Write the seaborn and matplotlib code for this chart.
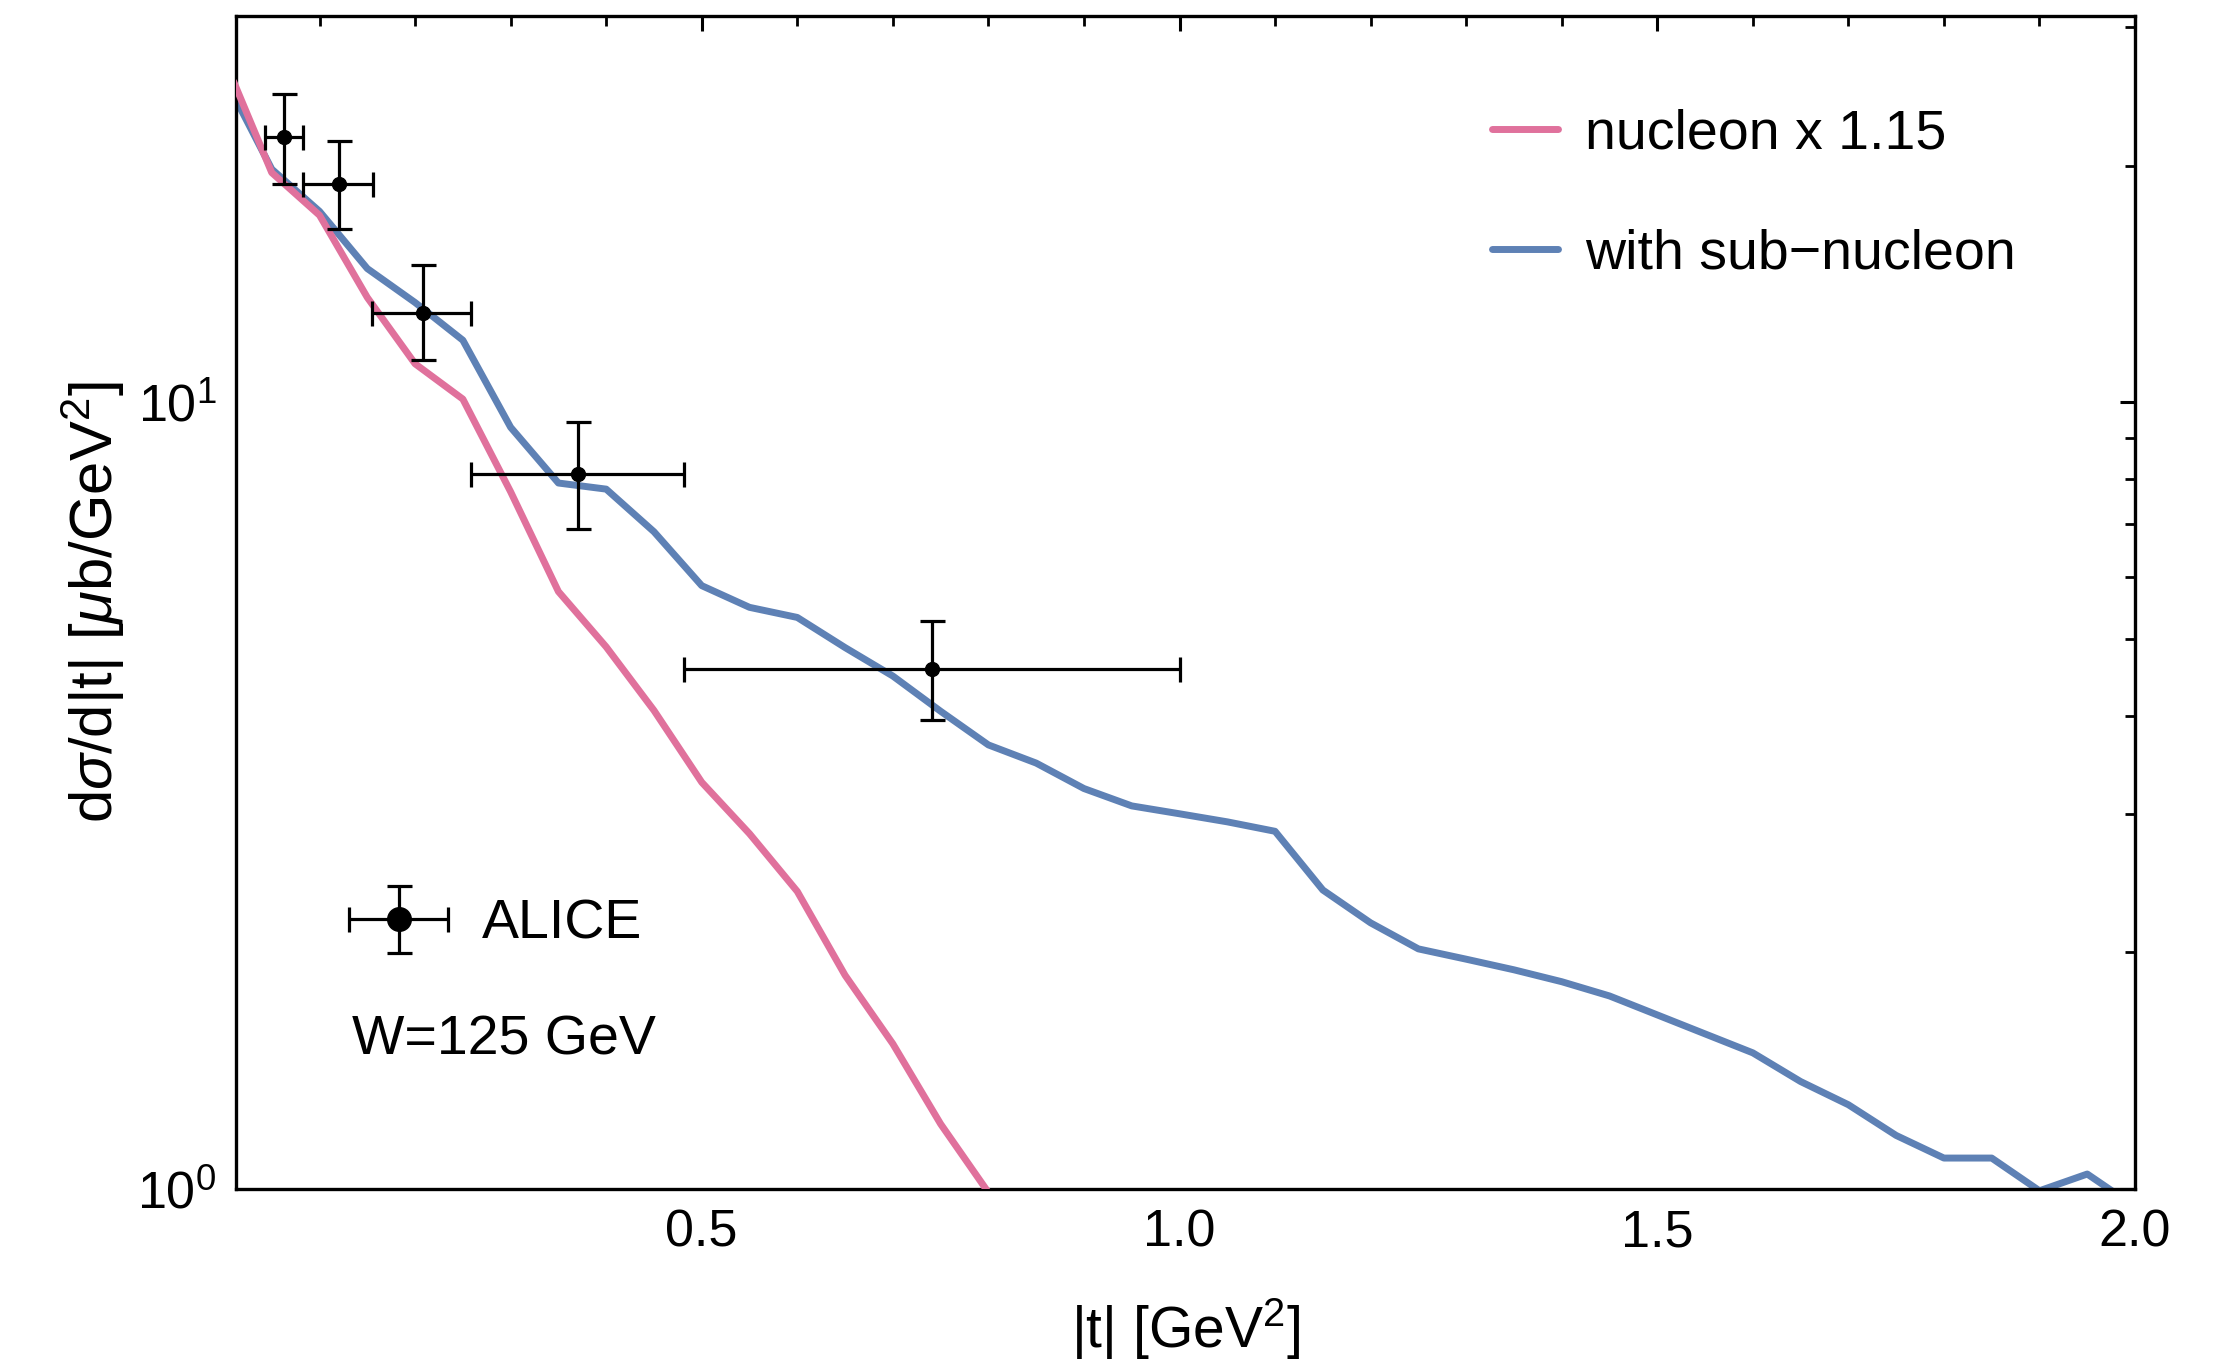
import matplotlib
matplotlib.use("Agg")
import matplotlib.pyplot as plt
import seaborn as sns
from matplotlib.lines import Line2D
from matplotlib.legend_handler import HandlerErrorbar
from matplotlib.container import ErrorbarContainer
from matplotlib.ticker import LogLocator, MultipleLocator, NullFormatter

# ---------------- data ----------------
t_grid = [0.01, 0.05, 0.10, 0.15, 0.20, 0.25, 0.30, 0.35, 0.40, 0.45,
          0.50, 0.55, 0.60, 0.65, 0.70, 0.75, 0.80, 0.85, 0.90, 0.95,
          1.00, 1.05, 1.10, 1.15, 1.20, 1.25, 1.30, 1.35, 1.40, 1.45,
          1.50, 1.55, 1.60, 1.65, 1.70, 1.75, 1.80, 1.85, 1.90, 1.95, 2.00]
sub_nucleon = [24.6, 19.8, 17.5, 14.8, 13.4, 12.0, 9.3, 7.9, 7.76, 6.85,
               5.85, 5.49, 5.33, 4.88, 4.49, 4.05, 3.67, 3.48, 3.23, 3.07,
               3.00, 2.93, 2.85, 2.40, 2.18, 2.02, 1.96, 1.90, 1.835, 1.76,
               1.665, 1.575, 1.49, 1.37, 1.28, 1.17, 1.095, 1.095, 0.995, 1.045, 0.95]

t_nucleon = [0.01, 0.05, 0.10, 0.15, 0.20, 0.25, 0.30, 0.35, 0.40, 0.45,
             0.50, 0.55, 0.60, 0.65, 0.70, 0.75, 0.80]
nucleon = [25.6, 19.6, 17.3, 13.6, 11.2, 10.1, 7.7, 5.75, 4.89, 4.06,
           3.29, 2.83, 2.39, 1.87, 1.53, 1.21, 0.99]

alice_t = [0.063, 0.1207, 0.2086, 0.3702, 0.7413]
alice_t_lo = [0.0432, 0.083, 0.1546, 0.2582, 0.4812]
alice_t_hi = [0.083, 0.1557, 0.2582, 0.4815, 1.0]
alice_y = [21.76, 18.98, 13.0, 8.11, 4.59]
alice_y_hi = [24.7, 21.5, 14.94, 9.44, 5.27]
alice_y_lo = [18.94, 16.63, 11.31, 6.90, 3.95]

label_nucleon = "nucleon x 1.15"
label_sub = "with sub\u2212nucleon"
label_alice = "ALICE"
annot = "W=125 GeV"
xlabel = r"|t| [GeV$^2$]"
ylabel = r"d$\sigma$/d|t| [$\mu$b/GeV$^2$]"

pink = "#E0719C"
blue = "#5E81B5"

# ---------------- style ----------------
sns.set_style("white")
plt.rcParams["font.family"] = ["Liberation Sans", "DejaVu Sans"]
plt.rcParams["mathtext.fontset"] = "custom"
plt.rcParams["mathtext.rm"] = "Liberation Sans"
plt.rcParams["mathtext.it"] = "Liberation Sans:italic"
plt.rcParams["mathtext.bf"] = "Liberation Sans:bold"
for k in ["text.color", "axes.labelcolor", "xtick.color", "ytick.color",
          "axes.edgecolor", "xtick.labelcolor", "ytick.labelcolor"]:
    plt.rcParams[k] = "black"

fs_tick = 37.5
fs_leg = 40
lw_curve = 5.0

fig = plt.figure(figsize=(22.34, 13.68), dpi=100)
ax = fig.add_axes([0.1056, 0.1308, 0.8501, 0.8575])

sns.lineplot(x=t_grid, y=sub_nucleon, ax=ax, color=blue, lw=lw_curve, sort=False,
             label=label_sub, legend=False, zorder=2)
sns.lineplot(x=t_nucleon, y=nucleon, ax=ax, color=pink, lw=lw_curve, sort=False,
             label=label_nucleon, legend=False, zorder=3)

xerr = [[c - lo for c, lo in zip(alice_t, alice_t_lo)],
        [hi - c for c, hi in zip(alice_t, alice_t_hi)]]
yerr = [[c - lo for c, lo in zip(alice_y, alice_y_lo)],
        [hi - c for c, hi in zip(alice_y, alice_y_hi)]]
cont = ax.errorbar(alice_t, alice_y, xerr=xerr, yerr=yerr, fmt="o", color="black",
                   ms=10, elinewidth=2.3, capsize=9, capthick=2.3, zorder=4)

ax.set_yscale("log")
ax.set_xlim(0.0125, 2.0)
ax.set_ylim(1.0, 31.0)

ax.xaxis.set_major_locator(MultipleLocator(0.5))
ax.xaxis.set_minor_locator(MultipleLocator(0.1))
ax.xaxis.set_major_formatter(matplotlib.ticker.FormatStrFormatter("%.1f"))
ax.yaxis.set_major_locator(LogLocator(base=10))
ax.yaxis.set_minor_locator(LogLocator(base=10, subs=[2, 3, 4, 5, 6, 7, 8, 9]))
ax.yaxis.set_minor_formatter(NullFormatter())

ax.tick_params(which="both", direction="in", top=True, right=True, color="black")
ax.tick_params(which="major", length=11, width=2.2, labelsize=fs_tick)
ax.tick_params(which="minor", length=7, width=2.0)
ax.tick_params(axis="x", which="major", pad=14)
ax.tick_params(axis="y", which="major", pad=14)
for s in ax.spines.values():
    s.set_linewidth(2.4)
    s.set_color("black")

ax.set_xlabel(xlabel, fontsize=41, labelpad=28)
ax.set_ylabel(ylabel, fontsize=43, labelpad=7)

# legends
h_lines = [Line2D([], [], color=pink, lw=lw_curve), Line2D([], [], color=blue, lw=lw_curve)]
leg1 = ax.legend(h_lines, [label_nucleon, label_sub], loc="upper left",
                 bbox_to_anchor=(0.6614, 0.921), frameon=False, fontsize=fs_leg,
                 handlelength=1.18, handletextpad=0.5, labelspacing=1.22,
                 borderpad=0, borderaxespad=0)
ax.add_artist(leg1)


class BigMarkerErrorbar(HandlerErrorbar):
    def create_artists(self, *args, **kwargs):
        arts = super().create_artists(*args, **kwargs)
        for a in arts:
            if isinstance(a, Line2D) and a.get_marker() == "o":
                a.set_markersize(17)
        return arts


leg2 = ax.legend([cont], [label_alice], loc="center left",
                 bbox_to_anchor=(0.0595, 0.2253), frameon=False, fontsize=fs_leg,
                 handlelength=1.8, handletextpad=0.6, borderpad=0, borderaxespad=0,
                 handler_map={ErrorbarContainer: BigMarkerErrorbar(xerr_size=0.89, yerr_size=0.6)})

ax.text(0.061, 0.1267, annot, transform=ax.transAxes, fontsize=fs_leg,
        ha="left", va="center")

fig.savefig("out.png", dpi=100)
